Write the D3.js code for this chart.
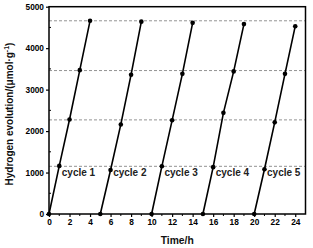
<!DOCTYPE html>
<html>
<head>
<meta charset="utf-8">
<script src="https://cdn.jsdelivr.net/npm/d3@7"></script>
<style>
  html, body { margin:0; padding:0; background:#fff; }
  svg { display:block; font-family:"Liberation Sans", Arial, sans-serif; }
</style>
</head>
<body>
<svg id="chart" width="313" height="248"></svg>
<script>
// hours and H2 amounts (umol/g)
var cycleNames = ["cycle 1","cycle 2","cycle 3","cycle 4","cycle 5"];
var cycleStart = [0, 5, 10, 15, 20];
var cycleValues = [
  [0, 1160, 2280, 3470, 4660],
  [0, 1060, 2160, 3360, 4640],
  [0, 1150, 2260, 3380, 4610],
  [0, 1130, 2440, 3440, 4580],
  [0, 1080, 2210, 3380, 4530]
];
var refLines = [1150, 2270, 3460, 4660];
var xTicks = [0,2,4,6,8,10,12,14,16,18,20,22,24];
var yTicks = [0,1000,2000,3000,4000,5000];

var svg = d3.select("#chart");
var L = 49, R = 305.5, T = 6.7, B = 214;
var x = d3.scaleLinear().domain([0, 25]).range([L, R]);
var y = d3.scaleLinear().domain([0, 5000]).range([B, T]);

// dashed guide lines
svg.selectAll("line.ref").data(refLines).enter().append("line")
  .attr("x1", L).attr("x2", R)
  .attr("y1", function(d){ return y(d); }).attr("y2", function(d){ return y(d); })
  .attr("stroke", "#777").attr("stroke-width", 0.8).attr("stroke-dasharray", "3 2");

// axes
var xAxis = d3.axisBottom(x).tickValues(xTicks).tickSize(3).tickPadding(2).tickFormat(d3.format("d"));
var yAxis = d3.axisLeft(y).tickValues(yTicks).tickSize(3).tickPadding(2).tickFormat(d3.format("d"));
var gx = svg.append("g").attr("transform", "translate(0," + B + ")").call(xAxis);
var gy = svg.append("g").attr("transform", "translate(" + L + ",0)").call(yAxis);
[gx, gy].forEach(function(g){
  g.select(".domain").remove();
  g.selectAll("line").attr("stroke", "#000").attr("stroke-width", 1.2);
  g.selectAll("text").attr("fill", "#000").attr("font-size", 8.3).attr("font-weight", "bold")
    .attr("font-family", "'Liberation Sans', Arial, sans-serif");
});
// minor ticks (inward)
var xMinor = d3.range(1, 25, 2), yMinor = d3.range(500, 5000, 1000);
svg.selectAll("line.xm").data(xMinor).enter().append("line")
  .attr("x1", function(d){ return x(d); }).attr("x2", function(d){ return x(d); })
  .attr("y1", B).attr("y2", B + 2).attr("stroke", "#000").attr("stroke-width", 1);
svg.selectAll("line.ym").data(yMinor).enter().append("line")
  .attr("x1", L).attr("x2", L + 2)
  .attr("y1", function(d){ return y(d); }).attr("y2", function(d){ return y(d); })
  .attr("stroke", "#000").attr("stroke-width", 1);

// frame
svg.append("rect").attr("x", L).attr("y", T).attr("width", R - L).attr("height", B - T)
  .attr("fill", "none").attr("stroke", "#000").attr("stroke-width", 1.5);

// cycles
var line = d3.line().x(function(d){ return x(d[0]); }).y(function(d){ return y(d[1]); });
cycleValues.forEach(function(vals, i){
  var pts = vals.map(function(v, k){ return [cycleStart[i] + k, v]; });
  svg.append("path").attr("d", line(pts)).attr("fill", "none")
    .attr("stroke", "#000").attr("stroke-width", 1.6);
  svg.selectAll(null).data(pts).enter().append("circle")
    .attr("cx", function(d){ return x(d[0]); }).attr("cy", function(d){ return y(d[1]); })
    .attr("r", 2.3).attr("fill", "#000");
  svg.append("text").attr("x", x(cycleStart[i] + 1.25)).attr("y", y(920))
    .attr("font-size", 10).attr("font-weight", "bold").attr("fill", "#222")
    .text(cycleNames[i]);
});

// axis titles
svg.append("text").attr("x", (L + R) / 2).attr("y", 244).attr("text-anchor", "middle")
  .attr("font-size", 10.3).attr("font-weight", "bold").attr("fill", "#111").text("Time/h");
svg.append("text").attr("transform", "translate(12.5,114) rotate(-90)").attr("text-anchor", "middle")
  .attr("font-size", 10).attr("font-weight", "bold").attr("fill", "#111")
  .html("Hydrogen evolution/(μmol·g<tspan dy='-4' font-size='7'>-1</tspan><tspan dy='4'>)</tspan>");
</script>
</body>
</html>
